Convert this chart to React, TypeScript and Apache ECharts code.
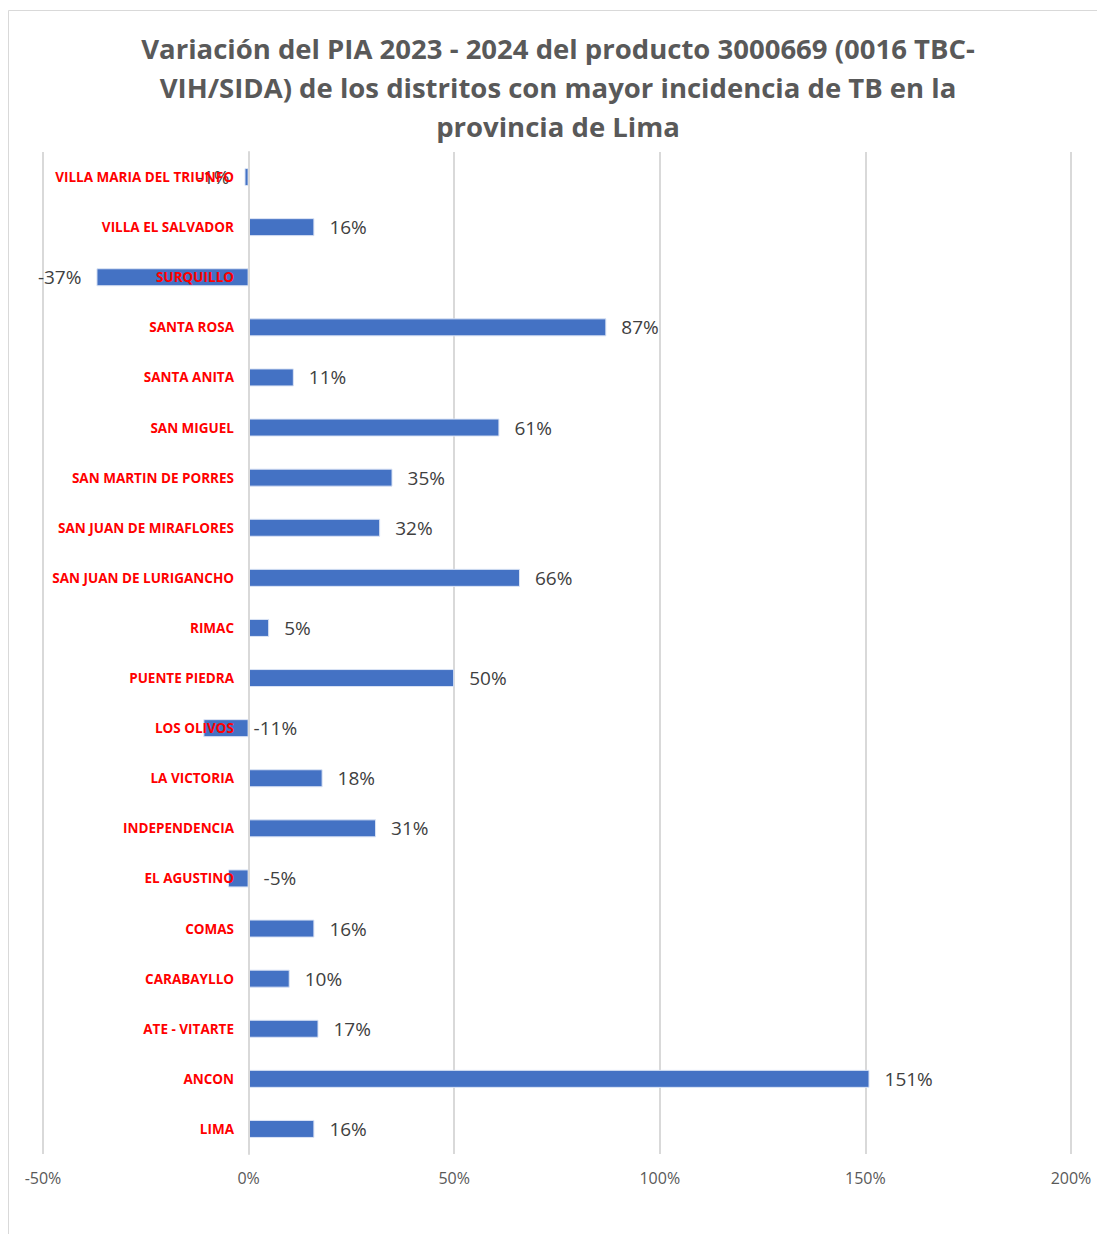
import React, { useEffect, useRef } from "react";
import * as echarts from "echarts";

const categories = [
  "LIMA", "ANCON", "ATE - VITARTE", "CARABAYLLO", "COMAS", "EL AGUSTINO",
  "INDEPENDENCIA", "LA VICTORIA", "LOS OLIVOS", "PUENTE PIEDRA", "RIMAC",
  "SAN JUAN DE LURIGANCHO", "SAN JUAN DE MIRAFLORES", "SAN MARTIN DE PORRES",
  "SAN MIGUEL", "SANTA ANITA", "SANTA ROSA", "SURQUILLO", "VILLA EL SALVADOR",
  "VILLA MARIA DEL TRIUNFO",
];
const values = [16, 151, 17, 10, 16, -5, 31, 18, -11, 50, 5, 66, 32, 35, 61, 11, 87, -37, 16, -1];
const leftLabelled = ["SURQUILLO", "VILLA MARIA DEL TRIUNFO"];
const closeLabelled = ["LOS OLIVOS"];
const xTicks = { min: -50, max: 200, interval: 50 };
const titleText =
  "Variación del PIA 2023 - 2024 del producto 3000669 (0016 TBC-\nVIH/SIDA) de los distritos con mayor incidencia de TB en la\nprovincia de Lima";

export default function App() {
  const ref = useRef<HTMLDivElement>(null);
  useEffect(() => {
    if (!ref.current) return;
    const chart = echarts.init(ref.current, null, { renderer: "svg" });
    chart.setOption({
      animation: false,
      backgroundColor: "#ffffff",
      graphic: [
        {
          type: "rect",
          shape: { x: 8.5, y: 10.5, width: 1100, height: 1240 },
          style: { fill: "none", stroke: "#d9d9d9", lineWidth: 1 },
          silent: true,
        },
      ],
      title: {
        text: titleText,
        left: 553,
        textAlign: "center",
        top: 24,
        textStyle: {
          fontFamily: "Open Sans",
          fontWeight: "bold",
          fontSize: 27.5,
          lineHeight: 39,
          color: "#595959",
        },
      },
      grid: {
        left: 43,
        right: 26,
        top: 152,
        bottom: 80,
        containLabel: false,
        outerBoundsMode: "none",
      },
      xAxis: {
        type: "value",
        min: xTicks.min,
        max: xTicks.max,
        interval: xTicks.interval,
        axisLine: { show: false },
        axisTick: { show: false },
        splitLine: { show: true, lineStyle: { color: "#d9d9d9", width: 2 } },
        axisLabel: {
          formatter: (v: number) => `${v}%`,
          color: "#595959",
          fontFamily: "Open Sans",
          fontSize: 16,
          margin: 16,
        },
      },
      yAxis: {
        type: "category",
        data: categories,
        z: 5,
        axisLine: { show: true, onZero: true, lineStyle: { color: "#d9d9d9", width: 2 } },
        axisTick: { show: false },
        axisLabel: {
          color: "#ff0000",
          fontWeight: "bold",
          fontFamily: "Open Sans",
          fontSize: 13.5,
          margin: -191,
        },
      },
      series: [
        {
          type: "bar",
          barWidth: 18,
          z: 1,
          data: categories.map((c, i) => ({
            value: values[i],
            label: {
              position: leftLabelled.includes(c) ? "left" : "right",
              distance: closeLabelled.includes(c) ? 5 : 15,
            },
          })),
          itemStyle: { color: "#4472c4", borderColor: "#dbe4f5", borderWidth: 1 },
          label: {
            show: true,
            distance: 15,
            formatter: (p: any) => `${p.value}%`,
            color: "#404040",
            fontFamily: "Open Sans",
            fontSize: 19,
          },
        },
      ],
    });
    return () => chart.dispose();
  }, []);
  return (
    <div
      ref={ref}
      style={{ position: "absolute", left: 0, top: 0, width: 1097, height: 1234 }}
    />
  );
}
